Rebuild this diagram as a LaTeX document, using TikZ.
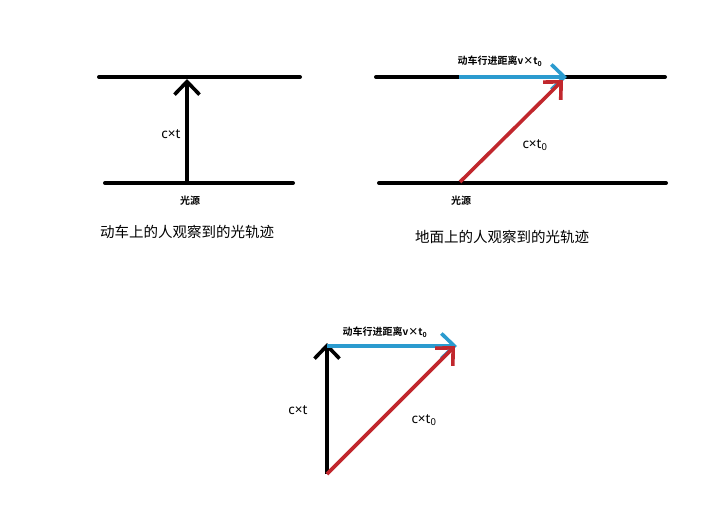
\documentclass[tikz,border=0pt]{standalone}
\usepackage{fontspec}
\setmainfont{Noto Sans CJK SC}
\newfontfamily\cjkbold{Noto Sans CJK SC Bold}
\newfontfamily\latinsans{Noto Sans}
\usetikzlibrary{arrows.meta}
\definecolor{lineblue}{HTML}{2B9BCF}
\definecolor{linered}{HTML}{C1272D}
\tikzset{
  rail/.style={line width=4pt, black, line cap=round},
  vec/.style={line width=3.6pt, -{Straight Barb[length=13pt,width=25pt,line width=3.6pt]}},
  lbl/.style={font=\latinsans\fontsize{13.5}{15}\selectfont, inner sep=0pt},
  smallbold/.style={font=\cjkbold\fontsize{10}{12}\selectfont, inner sep=0pt},
  caption/.style={font=\fontsize{14.5}{17}\selectfont, inner sep=0pt}
}
\begin{document}
\begin{tikzpicture}[x=1pt,y=-1pt]
\useasboundingbox (0,0) rectangle (701,524);
\fill[white] (0,0) rectangle (701,524);
% left panel
\coordinate (LT1) at (99,77); \coordinate (LT2) at (300,77);
\coordinate (LB1) at (105,183); \coordinate (LB2) at (293,183);
\draw[rail] (LT1) -- (LT2);
\draw[rail] (LB1) -- (LB2);
\coordinate (Ls) at (187,183); \coordinate (Le) at (187,79);
\draw[vec, black] (Ls) -- (Le);
\node[lbl] (Lct) at (171,134) {c×t};
\node[smallbold] (Lsrc) at (190,201) {光源};
\node[caption] (Lcap) at (187,232) {动车上的人观察到的光轨迹};
% right panel
\coordinate (RT1) at (376,77); \coordinate (RT2) at (665,77);
\coordinate (RB1) at (379,183); \coordinate (RB2) at (666,183);
\draw[rail] (RT1) -- (RT2);
\draw[rail] (RB1) -- (RB2);
\coordinate (Rb0) at (459,77); \coordinate (Rb1) at (567,77);
\coordinate (Rr0) at (460,182); \coordinate (Rr1) at (563,80);
\draw[vec, lineblue] (Rb0) -- (Rb1);
\draw[vec, linered] (Rr0) -- (Rr1);
\node[smallbold] (Rv) at (500,61) {动车行进距离v×t\textsubscript{0}};
\node[lbl] (Rct) at (535,145) {c×t\textsubscript{0}};
\node[smallbold] (Rsrc) at (461,201) {光源};
\node[caption] (Rcap) at (502,237) {地面上的人观察到的光轨迹};
% bottom panel
\coordinate (B0) at (327,474); \coordinate (Btop) at (327,343);
\coordinate (Bb0) at (327,346); \coordinate (Bb1) at (457,346);
\coordinate (Br1) at (455,346);
\draw[vec, black] (B0) -- (Btop);
\draw[vec, lineblue] (Bb0) -- (Bb1);
\draw[vec, linered] (B0) -- (Br1);
\node[smallbold] (Bv) at (385,332) {动车行进距离v×t\textsubscript{0}};
\node[lbl] (Bct) at (298,410) {c×t};
\node[lbl] (Bct0) at (424,420) {c×t\textsubscript{0}};
\end{tikzpicture}
\end{document}
